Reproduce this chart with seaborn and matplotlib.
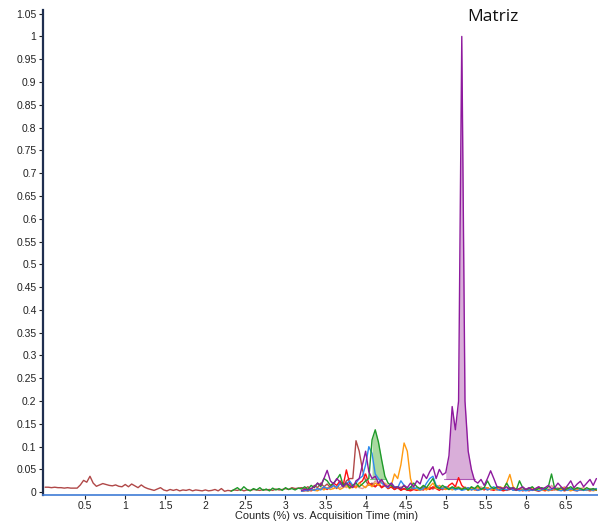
import numpy as np
import pandas as pd
import matplotlib
matplotlib.use("Agg")
import matplotlib.pyplot as plt
import seaborn as sns

# Acquisition time grid (min), sampled every 0.04 min
time_step = 0.04
time_grid = np.round(np.arange(0, 173) * time_step, 2)

# Normalised counts per extracted trace; each list starts at its own time
brown_t0 = 0.0
brown_y = [
    0.011, 0.011, 0.010, 0.011, 0.010, 0.010, 0.009, 0.010, 0.009, 0.009,  # 0.00
    0.009, 0.016, 0.026, 0.022, 0.035, 0.020, 0.013, 0.016, 0.019, 0.017,  # 0.40
    0.015, 0.014, 0.016, 0.013, 0.012, 0.017, 0.012, 0.018, 0.014, 0.010,  # 0.80
    0.016, 0.011, 0.008, 0.006, 0.004, 0.007, 0.010, 0.005, 0.003, 0.006,  # 1.20
    0.004, 0.006, 0.003, 0.005, 0.004, 0.006, 0.003, 0.005, 0.004, 0.003,  # 1.60
    0.005, 0.003, 0.004, 0.006, 0.003, 0.008, 0.002, 0.004, 0.003, 0.005,  # 2.00
    0.004, 0.006, 0.003, 0.005, 0.004, 0.006, 0.005, 0.004, 0.006, 0.005,  # 2.40
    0.006, 0.004, 0.007, 0.005, 0.006, 0.008, 0.006, 0.010, 0.008, 0.009,  # 2.80
    0.010, 0.008, 0.012, 0.006, 0.015, 0.010, 0.020, 0.012, 0.018, 0.010,  # 3.20
    0.015, 0.008, 0.020, 0.012, 0.025, 0.030, 0.030, 0.113, 0.090, 0.050,  # 3.60
    0.025, 0.015, 0.020, 0.012, 0.018, 0.010, 0.015, 0.008, 0.012, 0.006,  # 4.00
    0.010, 0.005, 0.008, 0.004, 0.006, 0.010, 0.005, 0.008, 0.012, 0.006,  # 4.40
    0.010, 0.008, 0.015, 0.010, 0.006, 0.012, 0.008, 0.010, 0.006, 0.008,  # 4.80
    0.008, 0.006, 0.010, 0.005, 0.008, 0.012, 0.006, 0.010, 0.005, 0.008,  # 5.20
    0.006, 0.010, 0.005, 0.008, 0.004, 0.006, 0.010, 0.005, 0.008, 0.006,  # 5.60
    0.005, 0.008, 0.004, 0.006, 0.010, 0.005, 0.008, 0.004, 0.006, 0.005,  # 6.00
    0.008, 0.005, 0.006, 0.010, 0.004, 0.006, 0.008, 0.005, 0.006, 0.004,  # 6.40
    0.006, 0.005, 0.008,                                                   # 6.80
]

green_t0 = 2.32
green_y = [
    0.002, 0.006, 0.010, 0.004, 0.012, 0.006, 0.003, 0.008, 0.005, 0.010,  # 2.32
    0.004, 0.007, 0.003, 0.009, 0.005, 0.008, 0.004, 0.010, 0.006, 0.008,  # 2.72
    0.005, 0.009,                                                          # 3.12
    0.007, 0.012, 0.006, 0.015, 0.010, 0.020, 0.012, 0.030, 0.025, 0.015,  # 3.20
    0.020, 0.028, 0.039, 0.015, 0.020, 0.010, 0.015, 0.020, 0.012, 0.018,  # 3.60
    0.025, 0.030, 0.115, 0.137, 0.110, 0.071, 0.035, 0.020, 0.015, 0.010,  # 4.00
    0.012, 0.008, 0.015, 0.006, 0.010, 0.020, 0.012, 0.008, 0.015, 0.010,  # 4.40
    0.020, 0.030, 0.012, 0.008, 0.015, 0.010, 0.006, 0.012, 0.008, 0.010,  # 4.80
    0.006, 0.010, 0.005, 0.012, 0.008, 0.015, 0.006, 0.010, 0.025, 0.012,  # 5.20
    0.008, 0.012, 0.010, 0.006, 0.020, 0.008, 0.010, 0.005, 0.025, 0.010,  # 5.60
    0.006, 0.008, 0.012, 0.005, 0.008, 0.010, 0.006, 0.012, 0.040, 0.008,  # 6.00
    0.006, 0.010, 0.005, 0.008, 0.012, 0.006, 0.010, 0.008, 0.005, 0.010,  # 6.40
    0.006, 0.008, 0.005,                                                   # 6.80
]

purple_t0 = 3.2
purple_y = [
    0.004, 0.006, 0.005, 0.008, 0.012, 0.020, 0.015, 0.030, 0.048, 0.025,  # 3.20
    0.018, 0.030, 0.022, 0.012, 0.020, 0.015, 0.010, 0.025, 0.030, 0.060,  # 3.60
    0.090, 0.045, 0.030, 0.035, 0.020, 0.028, 0.015, 0.012, 0.020, 0.010,  # 4.00
    0.012, 0.008, 0.015, 0.010, 0.020, 0.012, 0.025, 0.018, 0.040, 0.030,  # 4.40
    0.045, 0.056, 0.030, 0.050, 0.038, 0.043, 0.080, 0.188, 0.137, 0.200,  # 4.80
    1.000, 0.200, 0.090, 0.050, 0.025, 0.020, 0.028, 0.015, 0.030, 0.047,  # 5.20
    0.030, 0.012, 0.010, 0.008, 0.012, 0.006, 0.010, 0.005, 0.008, 0.012,  # 5.60
    0.006, 0.010, 0.005, 0.008, 0.012, 0.007, 0.010, 0.015, 0.008, 0.010,  # 6.00
    0.020, 0.012, 0.006, 0.015, 0.025, 0.010, 0.018, 0.024, 0.012, 0.020,  # 6.40
    0.028, 0.015, 0.030,                                                   # 6.80
]

blue_t0 = 3.2
blue_y = [
    0.002, 0.004, 0.003, 0.006, 0.004, 0.008, 0.005, 0.012, 0.008, 0.010,  # 3.20
    0.015, 0.010, 0.020, 0.012, 0.018, 0.025, 0.015, 0.020, 0.030, 0.035,  # 3.60
    0.060, 0.100, 0.085, 0.040, 0.030, 0.020, 0.015, 0.010, 0.020, 0.012,  # 4.00
    0.010, 0.025, 0.015, 0.006, 0.012, 0.008, 0.010, 0.005, 0.008, 0.020,  # 4.40
    0.030, 0.035, 0.015, 0.010, 0.008, 0.012, 0.006, 0.010, 0.005, 0.008,  # 4.80
    0.004, 0.006, 0.010, 0.005, 0.008, 0.004, 0.006, 0.010, 0.005, 0.008,  # 5.20
    0.012, 0.006, 0.004, 0.008, 0.005, 0.010, 0.004, 0.006, 0.003, 0.005,  # 5.60
    0.003, 0.005, 0.004, 0.006, 0.003, 0.005, 0.008, 0.004, 0.006, 0.010,  # 6.00
    0.005, 0.003, 0.006, 0.004, 0.008, 0.005, 0.003, 0.006, 0.004, 0.005,  # 6.40
    0.006, 0.004, 0.008,                                                   # 6.80
]

orange_t0 = 3.2
orange_y = [
    0.003, 0.005, 0.002, 0.006, 0.004, 0.003, 0.008, 0.005, 0.010, 0.006,  # 3.20
    0.008, 0.012, 0.006, 0.010, 0.015, 0.008, 0.012, 0.010, 0.020, 0.015,  # 3.60
    0.010, 0.018, 0.012, 0.020, 0.015, 0.025, 0.018, 0.010, 0.015, 0.040,  # 4.00
    0.030, 0.060, 0.108, 0.090, 0.030, 0.008, 0.006, 0.004, 0.008, 0.005,  # 4.40
    0.012, 0.020, 0.008, 0.015, 0.010, 0.006, 0.010, 0.005, 0.008, 0.012,  # 4.80
    0.006, 0.010, 0.004, 0.008, 0.005, 0.012, 0.006, 0.008, 0.010, 0.006,  # 5.20
    0.008, 0.005, 0.012, 0.008, 0.020, 0.039, 0.012, 0.006, 0.008, 0.005,  # 5.60
    0.004, 0.006, 0.010, 0.005, 0.008, 0.004, 0.006, 0.003, 0.005, 0.008,  # 6.00
    0.004, 0.006, 0.010, 0.005, 0.003, 0.006, 0.004, 0.008, 0.005, 0.004,  # 6.40
    0.006, 0.003, 0.005,                                                   # 6.80
]

red_t0 = 3.2
red_y = [
    0.002, 0.003, 0.005, 0.003, 0.006, 0.004, 0.008, 0.010, 0.006, 0.012,  # 3.20
    0.020, 0.015, 0.025, 0.015, 0.049, 0.020, 0.015, 0.010, 0.020, 0.025,  # 3.60
    0.040, 0.020, 0.015, 0.012, 0.020, 0.010, 0.015, 0.008, 0.012, 0.006,  # 4.00
    0.010, 0.004, 0.008, 0.005, 0.003, 0.006, 0.004, 0.008, 0.005, 0.010,  # 4.40
    0.006, 0.012, 0.008, 0.004, 0.010, 0.006, 0.015, 0.020, 0.012, 0.032,  # 4.80
    0.015, 0.008, 0.005, 0.010, 0.006, 0.004, 0.008, 0.005, 0.010, 0.006,  # 5.20
    0.004, 0.008, 0.005, 0.003, 0.006, 0.010, 0.005, 0.004, 0.006, 0.003,  # 5.60
    0.005, 0.003, 0.006, 0.004, 0.002, 0.005, 0.003, 0.006, 0.004, 0.008,  # 6.00
    0.004, 0.006, 0.003, 0.005, 0.008, 0.004, 0.003, 0.006, 0.004, 0.005,  # 6.40
    0.003, 0.005, 0.004,                                                   # 6.80
]

pink_t0 = 3.2
pink_y = [
    0.003, 0.005, 0.004, 0.007, 0.005, 0.008, 0.006, 0.010, 0.007, 0.012,  # 3.20
    0.008, 0.012, 0.010, 0.015, 0.010, 0.020, 0.012, 0.015, 0.010, 0.008,  # 3.60
    0.012, 0.020, 0.015, 0.025, 0.018, 0.012, 0.020, 0.015, 0.010, 0.012,  # 4.00
    0.008, 0.012, 0.006, 0.010, 0.005, 0.008, 0.004, 0.006, 0.005, 0.008,  # 4.40
    0.010, 0.006, 0.012, 0.008, 0.005, 0.010, 0.006, 0.008, 0.012, 0.010,  # 4.80
    0.008, 0.012, 0.006, 0.010, 0.005, 0.008, 0.012, 0.006, 0.010, 0.005,  # 5.20
    0.008, 0.004, 0.006, 0.010, 0.005, 0.008, 0.006, 0.004, 0.008, 0.005,  # 5.60
    0.006, 0.010, 0.005, 0.008, 0.012, 0.006, 0.010, 0.005, 0.015, 0.008,  # 6.00
    0.010, 0.006, 0.012, 0.008, 0.005, 0.010, 0.006, 0.008, 0.010, 0.006,  # 6.40
    0.008, 0.005, 0.006,                                                   # 6.80
]

trace_names = ["pink", "brown", "red", "orange", "blue", "green", "purple"]
trace_colors = ["#E39A9A", "#B04848", "#FF1010", "#FF9A10", "#2E8CF0", "#1E9A2A", "#8E1A9E"]
trace_data = {
    "pink": (pink_t0, pink_y),
    "brown": (brown_t0, brown_y),
    "red": (red_t0, red_y),
    "orange": (orange_t0, orange_y),
    "blue": (blue_t0, blue_y),
    "green": (green_t0, green_y),
    "purple": (purple_t0, purple_y),
}

# Integrated peak windows (start, end, baseline)
purple_window = (4.98, 5.36, 0.028)
green_window = (4.05, 4.26, 0.030)

y_ticks = [round(0.05 * k, 2) for k in range(22)]
x_ticks = [0.5, 1, 1.5, 2, 2.5, 3, 3.5, 4, 4.5, 5, 5.5, 6, 6.5]


def trace_frame(name):
    t0, vals = trace_data[name]
    i0 = int(round(t0 / time_step))
    return pd.DataFrame({"time": time_grid[i0:i0 + len(vals)],
                         "counts": vals, "trace": name})


long_df = pd.concat([trace_frame(n) for n in trace_names], ignore_index=True)

sns.set_style("ticks")
plt.rcParams["font.family"] = ["Liberation Sans", "DejaVu Sans"]

fig = plt.figure(figsize=(5.98, 5.21), dpi=100)
ax = fig.add_axes([43.5 / 598, 1 - 494.5 / 521, 1 - 43.5 / 598, (494.5 - 10) / 521])

# Shaded integration areas under the two main peaks
for name, (a, b, base), face in [("purple", purple_window, "#D9AED9"),
                                 ("green", green_window, "#A9D9A0")]:
    d = long_df[long_df.trace == name]
    m = (d.time >= a - 1e-9) & (d.time <= b + 1e-9)
    ax.fill_between(d.time[m], d.counts[m], base, where=d.counts[m] >= base,
                    interpolate=True, color=face, lw=0, zorder=1)
    ax.plot([a, b], [base, base], color=dict(zip(trace_names, trace_colors))[name],
            lw=0.8, alpha=0.6, zorder=1)

sns.lineplot(data=long_df, x="time", y="counts", hue="trace",
             hue_order=trace_names, palette=trace_colors,
             estimator=None, sort=False, lw=1.0, legend=False, ax=ax, zorder=2)

ax.set_xlim(-0.02, 6.9)
ax.set_ylim(-0.005, 1.058)
ax.set_xticks(x_ticks)
ax.set_xticklabels([f"{v:g}" for v in x_ticks])
ax.set_yticks(y_ticks)
ax.set_yticklabels([f"{v:g}" for v in y_ticks])
ax.tick_params(axis="both", labelsize=7.5, colors="#222222", length=3, width=0.8,
               pad=2, direction="out")
ax.set_xlabel("")
ax.set_ylabel("")
for s in ("top", "right"):
    ax.spines[s].set_visible(False)
ax.spines["left"].set_color("#1F2F50")
ax.spines["left"].set_linewidth(1.6)
ax.spines["bottom"].set_color("#3E7BD6")
ax.spines["bottom"].set_linewidth(1.2)

fig.text(327 / 598, 1 - 516 / 521, "Counts (%) vs. Acquisition Time (min)",
         ha="center", va="center", fontsize=7.9, color="#222222")
fig.text(493 / 598, 1 - 17 / 521, "Matriz", ha="center", va="center",
         fontsize=12.5, color="#111111", family=["Open Sans", "DejaVu Sans"])

fig.savefig("out.png", dpi=100)
